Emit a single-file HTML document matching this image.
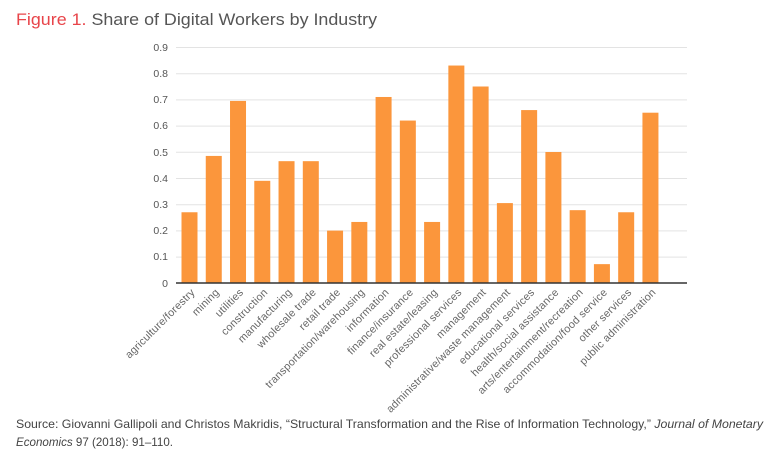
<!DOCTYPE html>
<html><head><style>
html,body{margin:0;padding:0;background:#fff;}
svg{display:block;}
text{font-family:"Liberation Sans",sans-serif;}
</style></head><body>
<svg width="768" height="457" viewBox="0 0 768 457" xmlns="http://www.w3.org/2000/svg">
<text x="16" y="25" font-size="17" fill="#555" textLength="361" lengthAdjust="spacingAndGlyphs"><tspan fill="#e8454a">Figure 1.</tspan> Share of Digital Workers by Industry</text>
<g stroke="#e3e3e3" stroke-width="1">
<line x1="176" x2="687" y1="47.5" y2="47.5"/>
<line x1="176" x2="687" y1="73.7" y2="73.7"/>
<line x1="176" x2="687" y1="99.9" y2="99.9"/>
<line x1="176" x2="687" y1="126.1" y2="126.1"/>
<line x1="176" x2="687" y1="152.3" y2="152.3"/>
<line x1="176" x2="687" y1="178.5" y2="178.5"/>
<line x1="176" x2="687" y1="204.7" y2="204.7"/>
<line x1="176" x2="687" y1="230.9" y2="230.9"/>
<line x1="176" x2="687" y1="257.1" y2="257.1"/>
</g>
<g font-size="10.5" fill="#555" text-anchor="end">
<text x="168" y="51">0.9</text><text x="168" y="77">0.8</text><text x="168" y="103">0.7</text>
<text x="168" y="129">0.6</text><text x="168" y="156">0.5</text><text x="168" y="182">0.4</text>
<text x="168" y="208">0.3</text><text x="168" y="234">0.2</text><text x="168" y="260">0.1</text>
<text x="168" y="287">0</text>
</g>
<g id="bars" fill="#fb963c"></g>
<line x1="176" x2="687" y1="283" y2="283" stroke="#333" stroke-width="1.5"/>
<g id="labels" font-size="10.8" fill="#666" text-anchor="end" letter-spacing="0.2"></g>
<text x="16" y="428" font-size="12" fill="#444" textLength="747" lengthAdjust="spacingAndGlyphs">Source: Giovanni Gallipoli and Christos Makridis, “Structural Transformation and the Rise of Information Technology,” <tspan font-style="italic">Journal of Monetary</tspan></text>
<text x="16" y="446" font-size="12" fill="#444" textLength="157" lengthAdjust="spacingAndGlyphs"><tspan font-style="italic">Economics</tspan> 97 (2018): 91–110.</text>
<script>
var v=[0.27,0.485,0.695,0.39,0.465,0.465,0.2,0.233,0.71,0.62,0.233,0.83,0.75,0.305,0.66,0.5,0.278,0.072,0.27,0.65];
var n=["agriculture/forestry","mining","utilities","construction","manufacturing","wholesale trade","retail trade","transportation/warehousing","information","finance/insurance","real estate/leasing","professional services","management","administrative/waste management","educational services","health/social assistance","arts/entertainment/recreation","accommodation/food service","other services","public administration"];
var NS="http://www.w3.org/2000/svg",b=document.getElementById("bars"),l=document.getElementById("labels");
for(var i=0;i<20;i++){var x=181.5+i*24.26,h=v[i]*262;
var r=document.createElementNS(NS,"rect");r.setAttribute("x",x);r.setAttribute("y",283-h);r.setAttribute("width",16);r.setAttribute("height",h);b.appendChild(r);
var t=document.createElementNS(NS,"text");var cx=x+14,cy=293;t.setAttribute("x",cx);t.setAttribute("y",cy);t.setAttribute("transform","rotate(-45 "+cx+" "+cy+")");t.textContent=n[i];l.appendChild(t);}
</script>
</svg>
</body></html>
